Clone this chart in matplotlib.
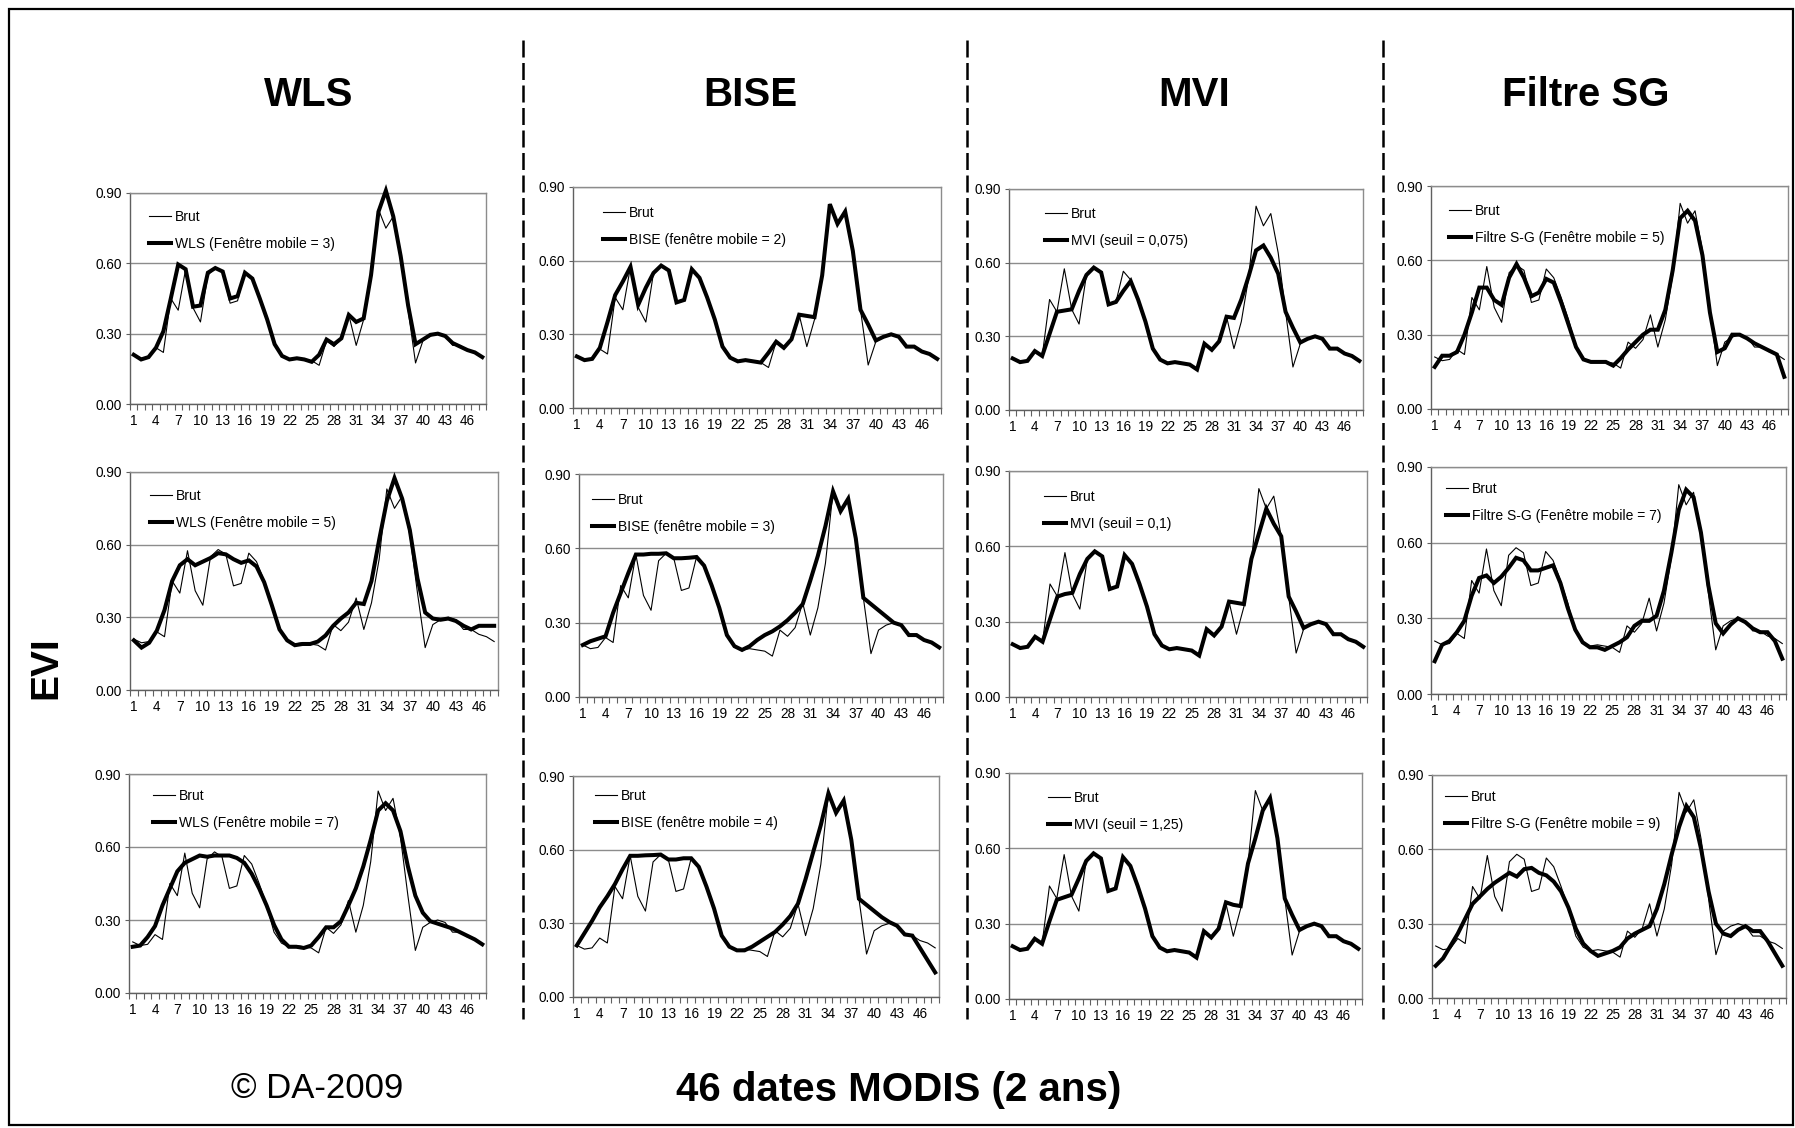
import matplotlib
matplotlib.use('Agg')
import matplotlib.pyplot as plt
import numpy as np
from matplotlib.lines import Line2D
from matplotlib.patches import Rectangle

plt.rcParams['font.family'] = ['Liberation Sans', 'DejaVu Sans']

# ---------------- data ----------------
dates = list(range(1, 49))
xtick_labels = [str(d) for d in range(1, 49, 3)]
ytick_values = [0.0, 0.3, 0.6, 0.9]

brut = [0.21, 0.195, 0.20, 0.24, 0.22, 0.45, 0.40, 0.575, 0.41, 0.35, 0.55, 0.58,
        0.56, 0.43, 0.44, 0.565, 0.53, 0.45, 0.36, 0.25, 0.205, 0.19, 0.195, 0.19,
        0.185, 0.165, 0.27, 0.245, 0.28, 0.38, 0.25, 0.36, 0.54, 0.83, 0.75, 0.80,
        0.64, 0.40, 0.175, 0.27, 0.29, 0.30, 0.29, 0.25, 0.25, 0.23, 0.22, 0.20]

wls3 = [0.21, 0.19, 0.20, 0.24, 0.31, 0.45, 0.595, 0.575, 0.415, 0.42, 0.56, 0.58,
        0.565, 0.45, 0.46, 0.56, 0.535, 0.45, 0.36, 0.255, 0.205, 0.19, 0.195, 0.19,
        0.18, 0.21, 0.275, 0.255, 0.28, 0.38, 0.35, 0.365, 0.55, 0.82, 0.91, 0.80,
        0.63, 0.42, 0.255, 0.275, 0.295, 0.30, 0.29, 0.26, 0.245, 0.23, 0.22, 0.20]
wls5 = [0.205, 0.175, 0.195, 0.245, 0.33, 0.45, 0.515, 0.54, 0.515, 0.53, 0.545, 0.565,
        0.56, 0.54, 0.525, 0.535, 0.51, 0.445, 0.35, 0.25, 0.205, 0.185, 0.19, 0.19,
        0.20, 0.225, 0.265, 0.295, 0.32, 0.36, 0.355, 0.45, 0.62, 0.78, 0.875, 0.79,
        0.66, 0.46, 0.32, 0.295, 0.29, 0.295, 0.285, 0.265, 0.25, 0.265, 0.265, 0.265]
wls7 = [0.19, 0.195, 0.23, 0.275, 0.36, 0.43, 0.50, 0.535, 0.55, 0.565, 0.56, 0.565,
        0.565, 0.565, 0.555, 0.535, 0.49, 0.43, 0.36, 0.28, 0.22, 0.19, 0.19, 0.185,
        0.195, 0.23, 0.27, 0.27, 0.295, 0.36, 0.43, 0.52, 0.63, 0.75, 0.78, 0.75,
        0.665, 0.52, 0.40, 0.33, 0.295, 0.285, 0.275, 0.265, 0.25, 0.235, 0.22, 0.20]

bise2 = [0.21, 0.195, 0.20, 0.245, 0.35, 0.46, 0.515, 0.575, 0.42, 0.49, 0.55, 0.58,
         0.56, 0.43, 0.44, 0.565, 0.53, 0.45, 0.36, 0.25, 0.205, 0.19, 0.195, 0.19,
         0.185, 0.225, 0.27, 0.245, 0.28, 0.38, 0.375, 0.37, 0.54, 0.83, 0.75, 0.80,
         0.64, 0.40, 0.34, 0.275, 0.29, 0.30, 0.29, 0.25, 0.25, 0.23, 0.22, 0.20]
bise3 = [0.21, 0.225, 0.235, 0.245, 0.34, 0.42, 0.50, 0.575, 0.575, 0.578, 0.578, 0.58,
         0.56, 0.56, 0.562, 0.565, 0.53, 0.45, 0.36, 0.25, 0.205, 0.19, 0.205, 0.23,
         0.25, 0.265, 0.285, 0.31, 0.34, 0.375, 0.47, 0.57, 0.69, 0.83, 0.75, 0.80,
         0.64, 0.40, 0.375, 0.35, 0.325, 0.30, 0.29, 0.25, 0.25, 0.23, 0.22, 0.20]
bise4 = [0.21, 0.26, 0.31, 0.365, 0.41, 0.46, 0.52, 0.575, 0.575, 0.577, 0.578, 0.58,
         0.56, 0.56, 0.565, 0.565, 0.53, 0.45, 0.36, 0.25, 0.205, 0.19, 0.19, 0.205,
         0.225, 0.245, 0.265, 0.295, 0.33, 0.38, 0.48, 0.59, 0.70, 0.83, 0.75, 0.80,
         0.64, 0.40, 0.375, 0.35, 0.325, 0.305, 0.29, 0.255, 0.25, 0.20, 0.15, 0.10]

mvi_0075 = [0.21, 0.195, 0.20, 0.24, 0.22, 0.31, 0.40, 0.405, 0.41, 0.485, 0.55, 0.58,
            0.56, 0.43, 0.44, 0.485, 0.525, 0.45, 0.36, 0.25, 0.205, 0.19, 0.195, 0.19,
            0.185, 0.165, 0.27, 0.245, 0.28, 0.38, 0.375, 0.45, 0.545, 0.65, 0.67, 0.62,
            0.555, 0.40, 0.335, 0.275, 0.29, 0.30, 0.29, 0.25, 0.25, 0.23, 0.22, 0.20]
mvi_01 = [0.21, 0.195, 0.20, 0.24, 0.22, 0.31, 0.40, 0.41, 0.415, 0.49, 0.55, 0.58,
          0.56, 0.43, 0.44, 0.565, 0.53, 0.45, 0.36, 0.25, 0.205, 0.19, 0.195, 0.19,
          0.185, 0.165, 0.27, 0.245, 0.28, 0.38, 0.375, 0.37, 0.55, 0.65, 0.75, 0.69,
          0.64, 0.40, 0.34, 0.275, 0.29, 0.30, 0.29, 0.25, 0.25, 0.23, 0.22, 0.20]
mvi_125 = [0.21, 0.195, 0.20, 0.24, 0.22, 0.31, 0.395, 0.405, 0.415, 0.48, 0.55, 0.58,
           0.56, 0.43, 0.44, 0.565, 0.53, 0.45, 0.36, 0.25, 0.205, 0.19, 0.195, 0.19,
           0.185, 0.165, 0.27, 0.245, 0.28, 0.385, 0.375, 0.37, 0.54, 0.64, 0.75, 0.80,
           0.64, 0.40, 0.335, 0.275, 0.29, 0.30, 0.29, 0.25, 0.25, 0.23, 0.22, 0.20]

sg5 = [0.17, 0.215, 0.215, 0.23, 0.30, 0.39, 0.49, 0.49, 0.44, 0.42, 0.53, 0.585,
       0.53, 0.455, 0.47, 0.525, 0.51, 0.43, 0.34, 0.25, 0.20, 0.19, 0.19, 0.19,
       0.175, 0.205, 0.24, 0.27, 0.30, 0.32, 0.32, 0.40, 0.56, 0.77, 0.80, 0.76,
       0.62, 0.39, 0.23, 0.245, 0.30, 0.30, 0.285, 0.265, 0.25, 0.235, 0.22, 0.13]
sg7 = [0.13, 0.195, 0.21, 0.245, 0.29, 0.39, 0.46, 0.47, 0.44, 0.465, 0.50, 0.54,
       0.53, 0.49, 0.49, 0.50, 0.51, 0.44, 0.34, 0.255, 0.205, 0.185, 0.185, 0.175,
       0.19, 0.205, 0.225, 0.27, 0.29, 0.29, 0.31, 0.41, 0.56, 0.73, 0.81, 0.78,
       0.64, 0.43, 0.28, 0.24, 0.275, 0.30, 0.285, 0.26, 0.245, 0.245, 0.21, 0.14]
sg9 = [0.13, 0.16, 0.21, 0.26, 0.32, 0.38, 0.41, 0.44, 0.465, 0.485, 0.505, 0.49,
       0.52, 0.525, 0.505, 0.495, 0.47, 0.43, 0.365, 0.28, 0.22, 0.19, 0.17, 0.18,
       0.19, 0.205, 0.24, 0.26, 0.275, 0.29, 0.36, 0.46, 0.58, 0.69, 0.775, 0.73,
       0.60, 0.43, 0.30, 0.26, 0.25, 0.275, 0.29, 0.27, 0.27, 0.23, 0.18, 0.13]

column_titles = ['WLS', 'BISE', 'MVI', 'Filtre SG']
brut_label = 'Brut'
smooth_series = [
    [wls3, bise2, mvi_0075, sg5],
    [wls5, bise3, mvi_01, sg7],
    [wls7, bise4, mvi_125, sg9],
]
smooth_labels = [
    ['WLS (Fenêtre mobile = 3)', 'BISE (fenêtre mobile = 2)', 'MVI (seuil = 0,075)', 'Filtre S-G (Fenêtre mobile = 5)'],
    ['WLS (Fenêtre mobile = 5)', 'BISE (fenêtre mobile = 3)', 'MVI (seuil = 0,1)', 'Filtre S-G (Fenêtre mobile = 7)'],
    ['WLS (Fenêtre mobile = 7)', 'BISE (fenêtre mobile = 4)', 'MVI (seuil = 1,25)', 'Filtre S-G (Fenêtre mobile = 9)'],
]

# ---------------- layout (pixels) ----------------
W, H = 1795, 1128
fig = plt.figure(figsize=(W / 100, H / 100), dpi=100)
fig.patch.set_facecolor('white')

boxes = [
    [(130, 193, 486, 404), (573, 187, 941, 408), (1009, 189, 1363, 410), (1431, 186, 1788, 409)],
    [(130, 472, 498, 690), (579, 474, 943, 697), (1009, 471, 1367, 697), (1431, 467, 1786, 694)],
    [(129, 774, 486, 993), (573, 776, 939, 997), (1009, 773, 1362, 999), (1432, 775, 1786, 998)],
]
legend_pos = [
    [(149, 217), (603, 213), (1045, 214), (1449, 211)],
    [(150, 496), (592, 500), (1044, 497), (1446, 489)],
    [(153, 796), (595, 796), (1048, 798), (1445, 797)],
]

GRID = '#8c8c8c'


def px_box(l, t, r, b):
    return [l / W, 1 - b / H, (r - l) / W, (b - t) / H]


for i in range(3):
    for j in range(4):
        ax = fig.add_axes(px_box(*boxes[i][j]))
        ax.plot(dates, brut, color='black', lw=0.8, label=brut_label, zorder=3)
        ax.plot(dates, smooth_series[i][j], color='black', lw=2.9,
                label=smooth_labels[i][j], zorder=4, clip_on=False,
                solid_joinstyle='miter')
        ax.set_xlim(0.5, 48.5)
        ax.set_ylim(0, 0.9)
        ax.set_yticks(ytick_values)
        ax.set_yticklabels(['%.2f' % v for v in ytick_values])
        ax.set_xticks(list(range(1, 49, 3)))
        ax.set_xticklabels(xtick_labels)
        ax.set_xticks(np.arange(0.5, 49, 1.0), minor=True)
        ax.tick_params(axis='x', which='major', length=0, pad=7, labelsize=9.8)
        ax.tick_params(axis='x', which='minor', length=4, width=0.8, color='#606060',
                       direction='out')
        ax.tick_params(axis='y', which='major', length=3, width=0.8, color='#606060',
                       labelsize=9.8, pad=3)
        ax.yaxis.grid(True, color=GRID, lw=1.0)
        ax.set_axisbelow(True)
        for s in ax.spines.values():
            s.set_color(GRID)
            s.set_linewidth(1.0)
        ax.spines['left'].set_color('#606060')
        ax.spines['bottom'].set_color('#606060')
        lx, ly = legend_pos[i][j]
        ax.legend(loc='upper left', bbox_to_anchor=(lx / W, 1 - (ly - 7) / H),
                  bbox_transform=fig.transFigure, frameon=False, fontsize=10,
                  borderpad=0, borderaxespad=0, handlelength=1.6,
                  handletextpad=0.25, labelspacing=0.95)

# column titles
title_x = [309, 750, 1194, 1586]
for tx, t in zip(title_x, column_titles):
    fig.text(tx / W, 1 - 95 / H, t, ha='center', va='center', fontsize=29,
             fontweight='bold')

# dashed separators
for sx in [523, 967, 1383]:
    fig.add_artist(Line2D([sx / W, sx / W], [1 - 40 / H, 1 - 1019 / H],
                          transform=fig.transFigure, color='black', lw=1.8,
                          dashes=(6.8, 2.2)))

# axis titles / notes
fig.text(46 / W, 1 - 668 / H, 'EVI', rotation=90, ha='center', va='center',
         fontsize=28, fontweight='bold')
fig.text(317 / W, 1 - 1088 / H, '© DA-2009', ha='center', va='center', fontsize=25)
fig.text(899 / W, 1 - 1090 / H, '46 dates MODIS (2 ans)', ha='center', va='center',
         fontsize=29, fontweight='bold')

# outer frame
fig.add_artist(Rectangle((9 / W, 1 - 1125 / H), (1793 - 9) / W, (1125 - 9) / H,
                         transform=fig.transFigure, fill=False, edgecolor='black',
                         lw=1.6))

fig.savefig('out.png', dpi=100, facecolor='white')
